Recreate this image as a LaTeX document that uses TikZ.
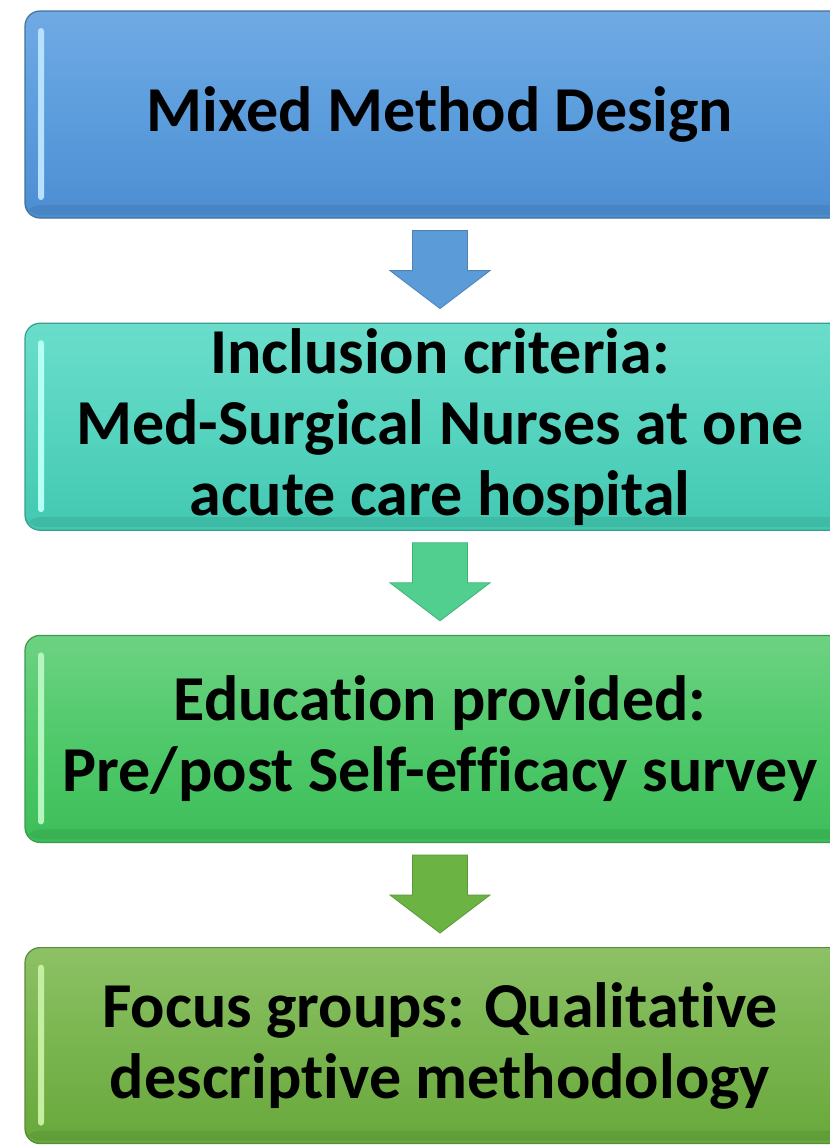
\documentclass[tikz,border=0pt]{standalone}
\usepackage{fontspec}
\setmainfont{Carlito}[Ligatures=NoCommon]
\usetikzlibrary{positioning,calc}

\definecolor{designTop}{HTML}{70AAE4}
\definecolor{designMid}{HTML}{5C9DDD}
\definecolor{designBot}{HTML}{4D8ED3}
\definecolor{designEdge}{HTML}{41719C}
\definecolor{designGlow}{HTML}{B8E0FF}
\definecolor{criteriaTop}{HTML}{6ADDCB}
\definecolor{criteriaMid}{HTML}{56D4BF}
\definecolor{criteriaBot}{HTML}{42C8B1}
\definecolor{criteriaEdge}{HTML}{3A9E8C}
\definecolor{criteriaGlow}{HTML}{B5FFF5}
\definecolor{educationTop}{HTML}{6DD283}
\definecolor{educationMid}{HTML}{50C96B}
\definecolor{educationBot}{HTML}{3DBE59}
\definecolor{educationEdge}{HTML}{3A9A4E}
\definecolor{educationGlow}{HTML}{B5F5C0}
\definecolor{focusTop}{HTML}{8DC165}
\definecolor{focusMid}{HTML}{79B54F}
\definecolor{focusBot}{HTML}{68A83B}
\definecolor{focusEdge}{HTML}{5A8A3A}
\definecolor{focusGlow}{HTML}{C5EFA0}
\definecolor{arrowBlue}{HTML}{5B9BD8}
\definecolor{arrowTeal}{HTML}{50CF8E}
\definecolor{arrowGreen}{HTML}{6BB342}

\tikzset{
  stage/.style={rounded corners=15pt, minimum width=830pt, minimum height=207pt,
    line width=1.2pt, align=center, inner sep=0pt, text=black,
    font=\bfseries\fontsize{64}{71}\selectfont},
  gloss/.style n args={5}{top color=#1, bottom color=#3, middle color=#2, draw=#4,
    path picture={
      \fill[#3!85!black, opacity=0.45] ([yshift=3pt]path picture bounding box.south west)
        rectangle ([yshift=13pt]path picture bounding box.south east);
      \fill[#5, rounded corners=3pt] ([xshift=13pt,yshift=-17pt]path picture bounding box.north west)
        rectangle ([xshift=19pt,yshift=18pt]path picture bounding box.south west);
    }},
  flow/.style={line width=0.8pt, line join=miter}
}

\begin{document}
\begin{tikzpicture}[x=1pt,y=-1pt]
\useasboundingbox (0,0) rectangle (830,1146);

\node[stage, gloss={designTop}{designMid}{designBot}{designEdge}{designGlow}] (design) at (440,114.5) {Mixed Method Design};
\node[stage, gloss={criteriaTop}{criteriaMid}{criteriaBot}{criteriaEdge}{criteriaGlow}, below=104pt of design] (criteria)
  {Inclusion criteria:\\ Med-Surgical Nurses at one\\acute care hospital};
\node[stage, gloss={educationTop}{educationMid}{educationBot}{educationEdge}{educationGlow}, below=104pt of criteria] (education)
  {Education provided:\\Pre/post Self-efficacy survey};
\node[stage, minimum height=196pt, gloss={focusTop}{focusMid}{focusBot}{focusEdge}{focusGlow}, below=104pt of education] (focus)
  {Focus groups: Qualitative\\descriptive methodology};

% block arrows between the stages
\foreach \from/\to/\shade in {design/criteria/arrowBlue, criteria/education/arrowTeal, education/focus/arrowGreen}
{
  \filldraw[flow, fill=\shade, draw=\shade!85!black]
    ($(\from.south)+(-27.5,12)$) -- ($(\from.south)+(27.5,12)$) -- ($(\from.south)+(27.5,52)$)
    -- ($(\from.south)+(50,52)$) -- ($(\to.north)+(0,-14)$) -- ($(\from.south)+(-50,52)$)
    -- ($(\from.south)+(-27.5,52)$) -- cycle;
}
\end{tikzpicture}
\end{document}
